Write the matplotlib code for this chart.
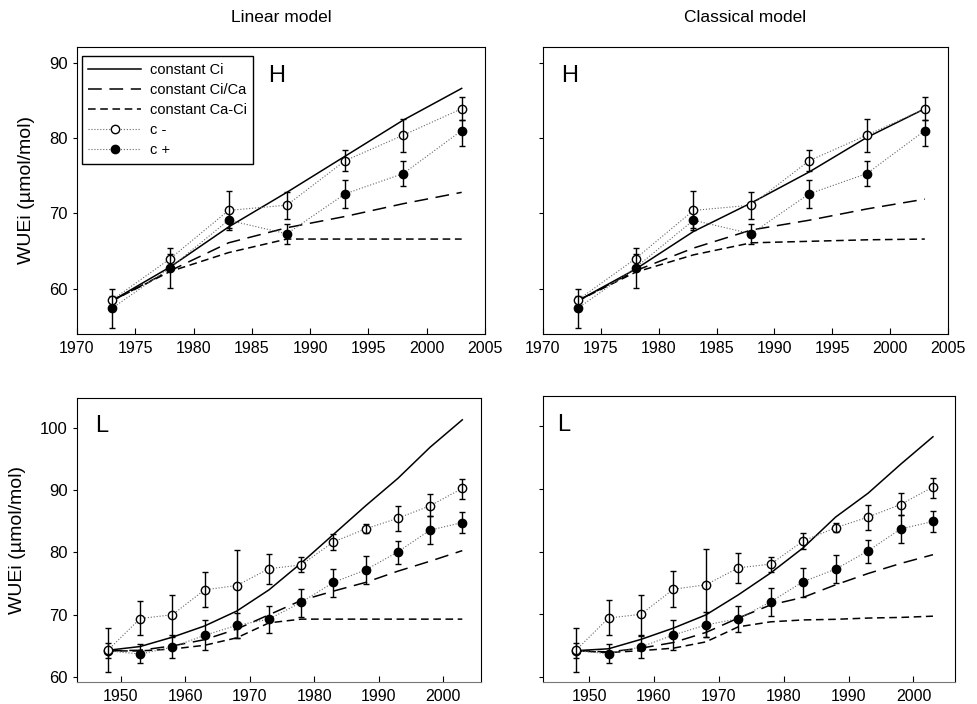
import numpy as np
import matplotlib.pyplot as plt

plt.rcParams['font.family'] = ['Liberation Sans', 'DejaVu Sans']

# high site (H), 1973-2003
years_h = [1973, 1978, 1983, 1988, 1993, 1998, 2003]
h_cminus = [58.5, 64.0, 70.4, 71.1, 77.0, 80.4, 83.9]
h_cminus_top = [60.0, 65.4, 73.0, 72.8, 78.4, 82.5, 85.4]
h_cminus_bot = [57.0, 62.6, 68.1, 69.3, 75.6, 78.2, 82.4]
h_cplus = [57.4, 62.8, 69.1, 67.3, 72.6, 75.3, 81.0]
h_cplus_top = [59.0, 64.6, 70.2, 68.6, 74.4, 77.0, 82.4]
h_cplus_bot = [54.8, 60.1, 67.8, 66.0, 70.7, 73.6, 79.0]

lin_h_ci = [58.4, 62.9, 68.2, 72.8, 77.6, 82.4, 86.6]
lin_h_ratio = [58.4, 62.4, 66.1, 68.1, 69.6, 71.3, 72.8]
lin_h_diff = [58.4, 62.3, 64.8, 66.6, 66.6, 66.6, 66.6]
cls_h_ci = [58.4, 62.6, 67.6, 71.4, 75.5, 80.1, 83.9]
cls_h_ratio = [58.4, 62.4, 65.4, 67.8, 69.1, 70.6, 71.9]
cls_h_diff = [58.4, 62.2, 64.5, 66.1, 66.3, 66.5, 66.6]

# low site (L), 1948-2003
years_l = [1948, 1953, 1958, 1963, 1968, 1973, 1978, 1983, 1988, 1993, 1998, 2003]
l_cminus = [64.3, 69.4, 70.0, 74.0, 74.7, 77.4, 78.0, 81.7, 83.8, 85.5, 87.5, 90.3]
l_cminus_top = [67.8, 72.2, 73.1, 76.9, 80.4, 79.7, 79.2, 82.9, 84.6, 87.4, 89.4, 91.8]
l_cminus_bot = [60.8, 66.7, 66.5, 71.2, 66.3, 75.0, 76.8, 80.4, 83.1, 83.5, 85.8, 88.6]
l_cplus = [64.2, 63.7, 64.8, 66.7, 68.3, 69.3, 72.0, 75.2, 77.2, 80.1, 83.6, 84.8]
l_cplus_top = [65.5, 65.3, 66.7, 69.1, 70.3, 71.4, 74.2, 77.4, 79.5, 81.9, 85.9, 86.5]
l_cplus_bot = [63.0, 62.3, 63.1, 64.3, 66.3, 67.1, 69.7, 72.8, 75.0, 78.2, 81.4, 83.1]

lin_l_ci = [64.3, 64.9, 66.4, 68.2, 70.6, 74.0, 78.3, 82.9, 87.5, 91.9, 96.9, 101.3]
lin_l_ratio = [64.2, 64.3, 65.0, 66.0, 67.7, 70.0, 72.3, 73.8, 75.2, 77.0, 78.6, 80.3]
lin_l_diff = [64.2, 64.2, 64.5, 65.1, 66.3, 68.7, 69.3, 69.3, 69.3, 69.3, 69.3, 69.3]
cls_l_ci = [64.2, 64.5, 66.0, 67.8, 69.9, 73.1, 76.6, 80.6, 85.5, 89.3, 93.9, 98.3]
cls_l_ratio = [64.2, 64.0, 64.6, 65.5, 67.1, 69.4, 71.5, 72.7, 74.7, 76.5, 78.1, 79.5]
cls_l_diff = [64.2, 63.9, 64.2, 64.6, 65.6, 68.0, 68.8, 69.1, 69.2, 69.4, 69.5, 69.7]


def errs(v, top, bot):
    v = np.array(v)
    return [v - np.array(bot), np.array(top) - v]


def panel(ax, years, ci, ratio, diff, cm, cm_top, cm_bot, cp, cp_top, cp_bot):
    l1, = ax.plot(years, ci, color='black', lw=1.1, label='constant Ci')
    l2, = ax.plot(years, ratio, color='black', lw=1.1, dashes=(9, 5), label='constant Ci/Ca')
    l3, = ax.plot(years, diff, color='black', lw=1.1, dashes=(5, 3), label='constant Ca-Ci')
    l5, = ax.plot(years, cp, ls=':', lw=0.8, color='#666666', marker='o', ms=6,
                  mfc='black', mec='black', label='c +', zorder=3)
    ax.errorbar(years, cp, yerr=errs(cp, cp_top, cp_bot), fmt='none', ecolor='black',
                elinewidth=1, capsize=2.5, capthick=1, zorder=4)
    l4, = ax.plot(years, cm, ls=':', lw=0.8, color='#666666', marker='o', ms=6,
                  mfc='white', mec='black', mew=1, label='c -', zorder=5)
    ax.errorbar(years, cm, yerr=errs(cm, cm_top, cm_bot), fmt='none', ecolor='black',
                elinewidth=1, capsize=2.5, capthick=1, zorder=6)
    ax.tick_params(axis='x', direction='in', length=4, labelsize=11.5, pad=5)
    ax.tick_params(axis='y', direction='out', length=3, labelsize=12)
    return [l1, l2, l3, l4, l5]


fig = plt.figure(figsize=(9.78, 7.04), dpi=100)
ax1 = fig.add_axes([0.0787, 0.5256, 0.4172, 0.4077])
ax2 = fig.add_axes([0.5552, 0.5256, 0.4141, 0.4077])
ax3 = fig.add_axes([0.0787, 0.0312, 0.4131, 0.4034])
ax4 = fig.add_axes([0.5552, 0.0312, 0.4213, 0.4063])

handles = panel(ax1, years_h, lin_h_ci, lin_h_ratio, lin_h_diff,
                h_cminus, h_cminus_top, h_cminus_bot, h_cplus, h_cplus_top, h_cplus_bot)
panel(ax2, years_h, cls_h_ci, cls_h_ratio, cls_h_diff,
      h_cminus, h_cminus_top, h_cminus_bot, h_cplus, h_cplus_top, h_cplus_bot)
panel(ax3, years_l, lin_l_ci, lin_l_ratio, lin_l_diff,
      l_cminus, l_cminus_top, l_cminus_bot, l_cplus, l_cplus_top, l_cplus_bot)
panel(ax4, years_l, cls_l_ci, cls_l_ratio, cls_l_diff,
      l_cminus, l_cminus_top, l_cminus_bot, l_cplus, l_cplus_top, l_cplus_bot)

for ax in (ax1, ax2):
    ax.set_xlim(1970, 2005)
    ax.set_ylim(54.0, 92.1)
    ax.set_xticks(np.arange(1970, 2006, 5))
    ax.set_yticks([60, 70, 80, 90])
ax3.set_xlim(1943.2, 2005.9)
ax4.set_xlim(1942.9, 2006.4)
for ax in (ax3, ax4):
    ax.set_ylim(59.2, 104.8)
    ax.set_xticks(np.arange(1950, 2001, 10))
    ax.set_yticks([60, 70, 80, 90, 100])
    ax.spines['bottom'].set_color('#777777')
for ax in (ax2, ax4):
    ax.set_yticklabels([])

ax1.set_title('Linear model', fontsize=12.5, pad=18)
ax2.set_title('Classical model', fontsize=12.5, pad=18)
ax1.set_ylabel('WUEi (\u00b5mol/mol)', fontsize=14, labelpad=10)
ax3.set_ylabel('WUEi (\u00b5mol/mol)', fontsize=14, labelpad=10)

ax1.text(0.49, 0.90, 'H', transform=ax1.transAxes, fontsize=17, ha='center', va='center')
ax2.text(0.067, 0.90, 'H', transform=ax2.transAxes, fontsize=17, ha='center', va='center')
ax3.text(0.062, 0.90, 'L', transform=ax3.transAxes, fontsize=17, ha='center', va='center')
ax4.text(0.051, 0.90, 'L', transform=ax4.transAxes, fontsize=17, ha='center', va='center')

leg = ax1.legend(handles=handles, loc='upper left', bbox_to_anchor=(0.012, 0.968),
                 borderaxespad=0, fontsize=10.5, handlelength=3.6, handletextpad=0.6,
                 labelspacing=0.42, fancybox=False, framealpha=1, edgecolor='black',
                 borderpad=0.45)
leg.get_frame().set_linewidth(1)

fig.savefig('out.png', dpi=100)
